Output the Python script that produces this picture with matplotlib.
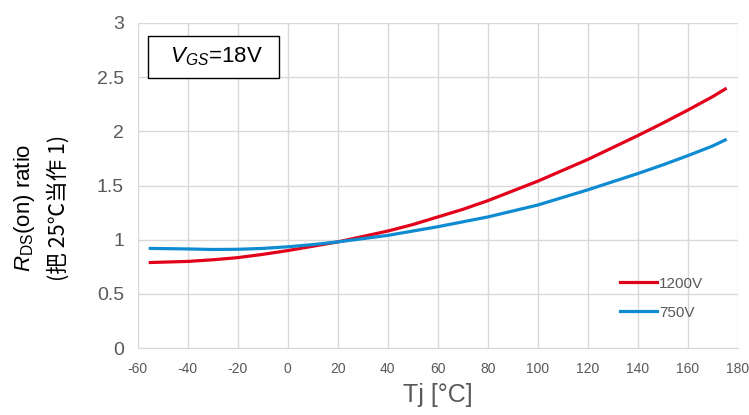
import matplotlib
matplotlib.use("Agg")
import matplotlib.pyplot as plt

plt.rcParams['font.family'] = ['Liberation Sans', 'Noto Sans CJK SC', 'DejaVu Sans']
plt.rcParams['mathtext.fontset'] = 'custom'
plt.rcParams['mathtext.rm'] = 'Liberation Sans'
plt.rcParams['mathtext.it'] = 'Liberation Sans:italic'
plt.rcParams['axes.unicode_minus'] = False

# Tj in degC, Rds(on) ratio
tj = [-55, -40, -30, -20, -10, 0, 10, 20, 30, 40, 50, 60, 70, 80, 90,
      100, 110, 120, 130, 140, 150, 160, 170, 175]
r_1200 = [0.79, 0.80, 0.815, 0.835, 0.865, 0.90, 0.94, 0.98, 1.03, 1.08, 1.14, 1.21,
          1.28, 1.36, 1.45, 1.54, 1.64, 1.74, 1.85, 1.96, 2.075, 2.195, 2.32, 2.39]
r_750 = [0.92, 0.915, 0.91, 0.912, 0.92, 0.935, 0.955, 0.98, 1.01, 1.04, 1.08, 1.12,
         1.165, 1.21, 1.265, 1.32, 1.39, 1.46, 1.535, 1.61, 1.69, 1.775, 1.865, 1.92]
labels = ['1200V', '750V']
xticks = list(range(-60, 181, 20))
yticks = [0, 0.5, 1, 1.5, 2, 2.5, 3]

gray = '#595959'
fig = plt.figure(figsize=(7.49, 4.15), dpi=100)
ax = fig.add_axes([0.184, 0.161, 0.801, 0.784])

ax.plot(tj, r_1200, color='#E2001A', lw=2.3, label=labels[0])
ax.plot(tj, r_750, color='#0F8BD2', lw=2.3, label=labels[1])

ax.set_xlim(-60, 180)
ax.set_ylim(0, 3)
ax.set_xticks(xticks)
ax.set_yticks(yticks)
ax.set_yticklabels(['0', '0.5', '1', '1.5', '2', '2.5', '3'])
ax.grid(True, color='#D9D9D9', lw=1)
ax.set_axisbelow(True)
for s in ['top', 'right', 'left']:
    ax.spines[s].set_visible(False)
ax.spines['bottom'].set_color('#D9D9D9')
ax.tick_params(axis='both', length=0, colors=gray)
ax.tick_params(axis='x', labelsize=10, pad=10)
ax.tick_params(axis='y', labelsize=14, pad=10)

ax.set_xlabel('Tj [°C]', fontsize=18, color=gray, labelpad=5)

fig.text(0.033, 0.50, r'$R_{\mathrm{DS}}$(on) ratio', rotation=90,
         ha='center', va='center', fontsize=16, color='black')
fig.text(0.078, 0.50, '(把 25℃当作 1)', rotation=90, ha='center', va='center',
         fontsize=15.5, color='black',
         family=['Noto Sans CJK SC', 'DejaVu Sans'])

ax.text(0.033, 0.895, r'  $V_{GS}$=18V  ', transform=ax.transAxes, fontsize=16,
        ha='left', va='center',
        bbox=dict(boxstyle='square,pad=0.45', fc='white', ec='black', lw=1))

leg = ax.legend(loc='lower right', bbox_to_anchor=(0.965, 0.045), frameon=False,
                fontsize=11, handlelength=2.4, handletextpad=0.15, labelspacing=1.0)
for t in leg.get_texts():
    t.set_color(gray)

fig.savefig('out.png', dpi=100)
